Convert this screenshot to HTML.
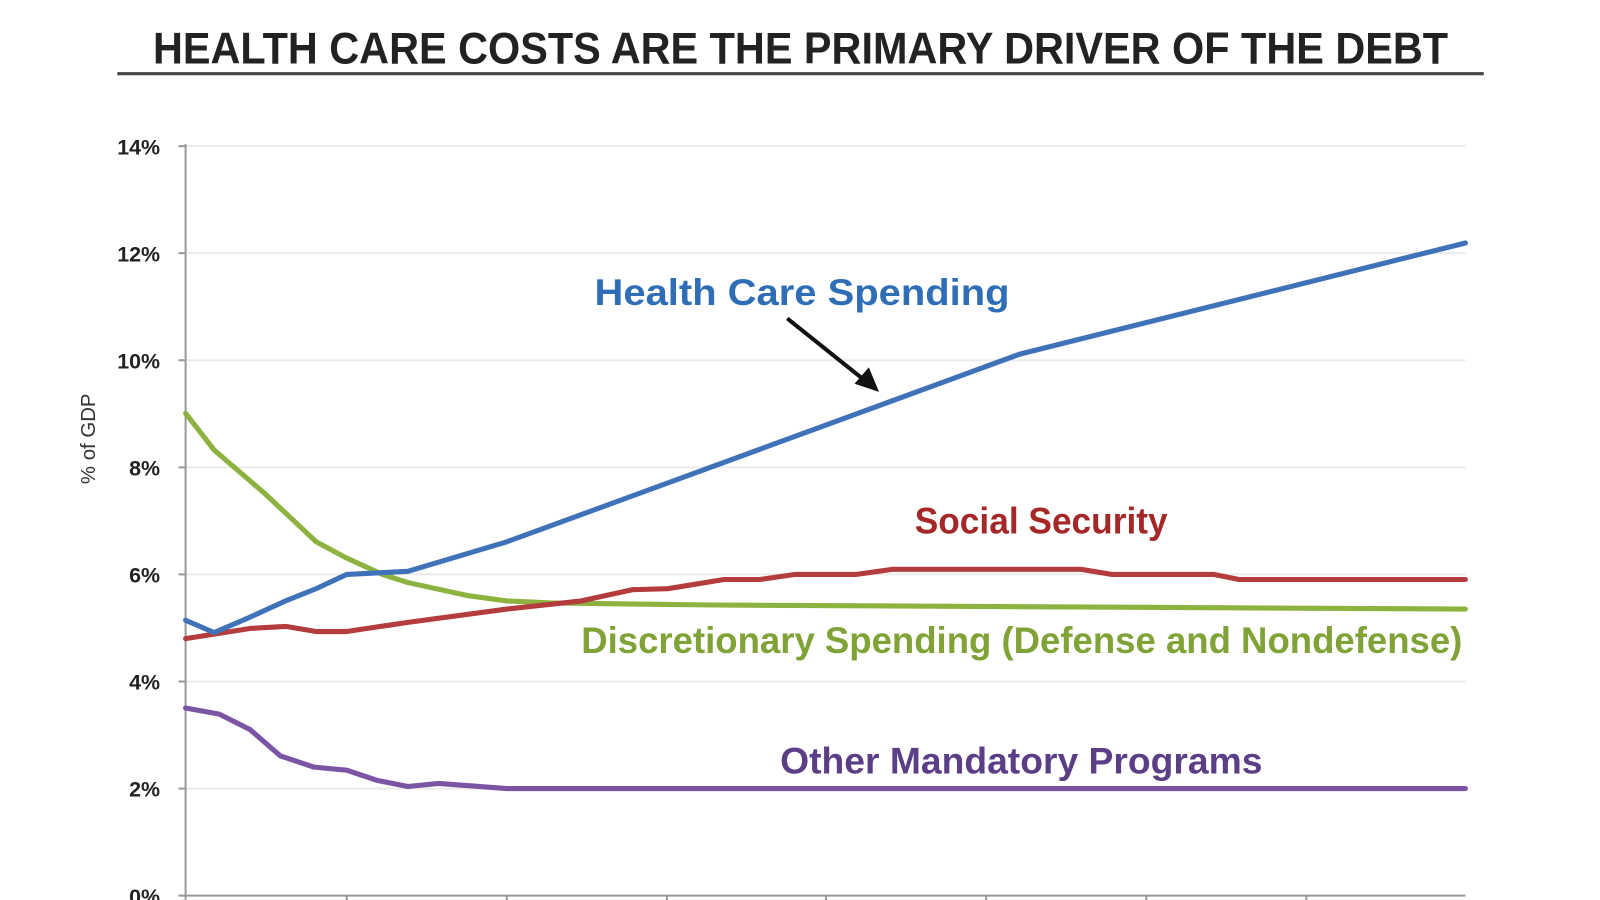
<!DOCTYPE html>
<html><head><meta charset="utf-8"><style>html,body{margin:0;padding:0;background:#fff}svg{display:block}</style></head>
<body>
<svg width="1600" height="900" viewBox="0 0 1569 882" xmlns="http://www.w3.org/2000/svg" font-family="Liberation Sans, sans-serif">
<text x="150" y="62" font-size="44" font-weight="bold" fill="#222" textLength="1270" lengthAdjust="spacingAndGlyphs">HEALTH CARE COSTS ARE THE PRIMARY DRIVER OF THE DEBT</text>
<line x1="115" y1="72" x2="1455" y2="72" stroke="#444" stroke-width="3"/>
<g stroke="#ebebeb" stroke-width="2">
<line x1="182" y1="143" x2="1437" y2="143"/><line x1="182" y1="248" x2="1437" y2="248"/>
<line x1="182" y1="353" x2="1437" y2="353"/><line x1="182" y1="458" x2="1437" y2="458"/>
<line x1="182" y1="563" x2="1437" y2="563"/><line x1="182" y1="668" x2="1437" y2="668"/>
<line x1="182" y1="773" x2="1437" y2="773"/>
</g>
<g stroke="#999" stroke-width="2">
<line x1="182" y1="141" x2="182" y2="882"/>
<line x1="182" y1="878" x2="1437" y2="878"/>
<line x1="175" y1="143" x2="182" y2="143"/><line x1="175" y1="248" x2="182" y2="248"/>
<line x1="175" y1="353" x2="182" y2="353"/><line x1="175" y1="458" x2="182" y2="458"/>
<line x1="175" y1="563" x2="182" y2="563"/><line x1="175" y1="668" x2="182" y2="668"/>
<line x1="175" y1="773" x2="182" y2="773"/><line x1="175" y1="878" x2="182" y2="878"/>
<line x1="340" y1="878" x2="340" y2="885"/><line x1="497" y1="878" x2="497" y2="885"/>
<line x1="654" y1="878" x2="654" y2="885"/><line x1="810" y1="878" x2="810" y2="885"/>
<line x1="967" y1="878" x2="967" y2="885"/><line x1="1124" y1="878" x2="1124" y2="885"/>
<line x1="1281" y1="878" x2="1281" y2="885"/>
</g>
<g font-size="21" font-weight="bold" fill="#222" text-anchor="end">
<text x="157" y="151">14%</text><text x="157" y="256">12%</text><text x="157" y="361">10%</text>
<text x="157" y="466">8%</text><text x="157" y="571">6%</text><text x="157" y="676">4%</text>
<text x="157" y="781">2%</text><text x="157" y="886">0%</text>
</g>
<text transform="translate(93,430) rotate(-90)" font-size="20" fill="#333" text-anchor="middle">% of GDP</text>
<g fill="none" stroke-width="5" stroke-linejoin="round" stroke-linecap="round">
<polyline stroke="#8db23f" points="182,405 210,441 260,484 310,531 340,547 375,563 400,571 460,584 497,589 540,591 700,593 1437,597"/>
<polyline stroke="#b43c3c" points="182,626 245,616 280,614 310,619 340,619 400,610 497,597 570,589 620,578 655,577 710,568 745,568 780,563 840,563 875,558 1060,558 1090,563 1190,563 1215,568 1437,568"/>
<polyline stroke="#3f72b8" points="182,608 210,620 245,605 280,589 310,577 340,563 400,560 497,531 530,519 1000,347 1437,238"/>
<polyline stroke="#7a55a3" points="182,694 215,700 245,715 275,741 308,752 340,755 370,765 400,771 430,768 497,773 1437,773"/>
</g>
<line x1="772" y1="312" x2="852" y2="376" stroke="#111" stroke-width="4"/>
<polygon points="862,384 838,376 852,360" fill="#111"/>
<g font-weight="bold" font-size="36">
<text x="583" y="299" fill="#2f6eb6" textLength="407" lengthAdjust="spacingAndGlyphs">Health Care Spending</text>
<text x="897" y="523" fill="#a52828" textLength="248" lengthAdjust="spacingAndGlyphs">Social Security</text>
<text x="570" y="640" fill="#80a236" textLength="864" lengthAdjust="spacingAndGlyphs">Discretionary Spending (Defense and Nondefense)</text>
<text x="765" y="758" fill="#5a3e86" textLength="473" lengthAdjust="spacingAndGlyphs">Other Mandatory Programs</text>
</g>
</svg>
</body></html>
